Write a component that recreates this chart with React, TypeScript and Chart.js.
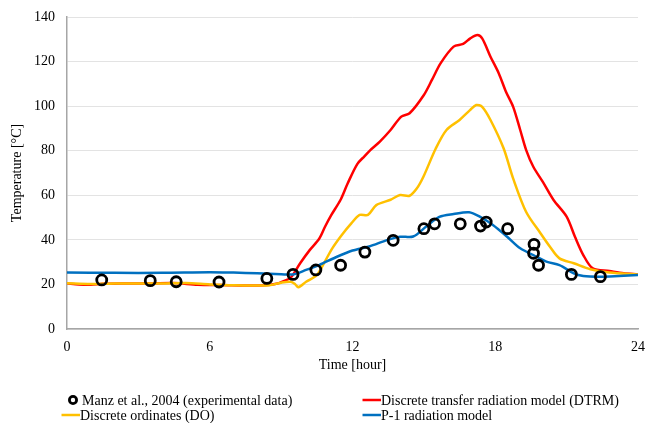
import React, { useEffect, useRef } from "react";
import { Chart, registerables } from "chart.js";

Chart.register(...registerables);

// Experimental data (Manz et al., 2004)
const expHours = [1.46, 3.5, 4.59, 6.39, 8.4, 9.5, 10.46, 11.5, 12.52, 13.71, 15.0, 15.45, 16.53, 17.38, 17.62, 18.52, 19.63, 19.61, 19.82, 21.2, 22.42];
const expTemps = [22.0, 21.7, 21.2, 21.1, 22.7, 24.5, 26.5, 28.6, 34.5, 39.8, 45.0, 47.2, 47.2, 46.2, 48.0, 45.0, 38.0, 34.0, 28.6, 24.5, 23.5];

// DTRM
const dtrmHours = [0, 0.5, 1.0, 1.5, 2.5, 3.5, 4.5, 5.5, 6.5, 7.5, 8.3, 8.8, 9.1, 9.4, 9.8, 10.2, 10.6, 10.85, 11.1, 11.5, 11.8, 12.2, 12.5, 12.75, 13.15, 13.6, 14.05, 14.4, 15.0, 15.35, 15.7, 16.25, 16.65, 16.95, 17.25, 17.45, 17.8, 18.15, 18.45, 18.75, 19.05, 19.3, 19.6, 20.0, 20.45, 21.0, 21.35, 21.7, 22.1, 22.8, 23.4, 24.0];
const dtrmTemps = [20.5, 20.0, 19.9, 20.3, 20.4, 20.4, 20.6, 19.8, 19.7, 19.5, 19.6, 20.3, 21.5, 23.0, 29.5, 35.4, 40.5, 46.0, 51.0, 58.0, 65.4, 74.0, 77.5, 80.3, 84.1, 89.3, 95.3, 96.8, 105.0, 112.0, 119.2, 126.7, 127.9, 130.4, 131.9, 130.4, 122.2, 114.7, 106.5, 99.8, 89.3, 80.3, 72.8, 66.0, 57.9, 50.4, 41.4, 33.2, 27.2, 26.0, 25.0, 24.5];

// DO
const doHours = [0, 1, 2, 3, 4, 5, 6, 7, 8, 8.5, 9.0, 9.4, 9.6, 9.72, 10.05, 10.5, 10.8, 11.15, 11.55, 11.95, 12.3, 12.65, 13.0, 13.6, 14.0, 14.4, 14.7, 14.98, 15.5, 15.95, 16.5, 16.95, 17.2, 17.45, 17.8, 18.35, 18.75, 19.3, 19.9, 20.3, 20.7, 21.3, 22.0, 22.8, 24.0];
const doTemps = [20.5, 20.2, 20.4, 20.4, 20.4, 20.6, 20.0, 19.6, 19.5, 19.6, 20.8, 21.2, 20.0, 18.7, 21.2, 24.2, 29.5, 36.2, 42.2, 47.4, 51.2, 51.2, 55.6, 58.0, 60.1, 59.8, 63.0, 68.3, 81.0, 89.3, 93.8, 98.3, 100.5, 99.7, 93.8, 81.1, 67.6, 52.5, 43.0, 36.9, 31.7, 29.5, 26.8, 25.3, 24.5];

// P-1
const p1Hours = [0, 2, 4, 6, 7, 8, 9.0, 9.5, 10.05, 10.6, 11.3, 12.0, 12.7, 13.45, 14.0, 14.55, 15.1, 15.65, 16.25, 16.9, 17.35, 17.9, 18.5, 19.05, 19.6, 20.15, 20.7, 21.3, 21.7, 22.4, 23.2, 24.0];
const p1Temps = [25.3, 25.2, 25.2, 25.5, 25.3, 25.0, 24.6, 24.5, 26.5, 28.7, 32.2, 35.2, 37.0, 39.9, 41.4, 41.5, 46.0, 50.3, 51.6, 52.4, 50.4, 46.7, 41.4, 36.2, 33.2, 30.2, 28.7, 25.0, 23.8, 23.5, 23.8, 24.2];

const xTicks = [0, 6, 12, 18, 24];
const yTicks = [0, 20, 40, 60, 80, 100, 120, 140];

const seriesNames = [
  "Manz et al., 2004 (experimental data)",
  "Discrete transfer radiation model (DTRM)",
  "Discrete ordinates (DO)",
  "P-1 radiation model",
];
const seriesColors = ["#000000", "#FF0000", "#FFC000", "#0070C0"];

const FONT = "'Liberation Serif', 'Times New Roman', serif";
const FS = 14;

const toPts = (xs: number[], ys: number[]) => xs.map((x, i) => ({ x, y: ys[i] }));

const legendPlugin = {
  id: "customLegend",
  afterDraw(chart: any) {
    const ctx = chart.ctx;
    ctx.save();
    ctx.font = `${FS}px ${FONT}`;
    ctx.textBaseline = "middle";
    const slots = [
      { x: 82, y: 400 },
      { x: 381, y: 400 },
      { x: 80, y: 415 },
      { x: 381, y: 415 },
    ];
    chart.data.datasets.forEach((ds: any, i: number) => {
      const s = slots[i];
      if (ds.type === "scatter") {
        ctx.beginPath();
        ctx.lineWidth = 2.8;
        ctx.strokeStyle = "#000";
        ctx.arc(s.x - 9, s.y, 3.6, 0, Math.PI * 2);
        ctx.stroke();
      } else {
        ctx.beginPath();
        ctx.lineWidth = 2.5;
        ctx.strokeStyle = ds.borderColor;
        ctx.moveTo(s.x - 18.5, s.y);
        ctx.lineTo(s.x, s.y);
        ctx.stroke();
      }
      ctx.fillStyle = "#000";
      ctx.textAlign = "left";
      ctx.fillText(ds.label, s.x, s.y + 1);
    });
    ctx.restore();
  },
};

export default function App() {
  const ref = useRef<HTMLCanvasElement | null>(null);
  useEffect(() => {
    if (!ref.current) return;
    const chart = new Chart(ref.current, {
      type: "line",
      data: {
        datasets: [
          {
            type: "scatter",
            label: seriesNames[0],
            data: toPts(expHours, expTemps),
            borderColor: seriesColors[0],
            backgroundColor: "rgba(0,0,0,0)",
            pointRadius: 5,
            pointBorderWidth: 2.8,
            pointStyle: "circle",
            showLine: false,
            order: 0,
          } as any,
          {
            type: "line",
            label: seriesNames[1],
            data: toPts(dtrmHours, dtrmTemps),
            borderColor: seriesColors[1],
            borderWidth: 2.5,
            pointRadius: 0,
            tension: 0.3,
            fill: false,
            order: 3,
          },
          {
            type: "line",
            label: seriesNames[2],
            data: toPts(doHours, doTemps),
            borderColor: seriesColors[2],
            borderWidth: 2.5,
            pointRadius: 0,
            tension: 0.3,
            fill: false,
            order: 2,
          },
          {
            type: "line",
            label: seriesNames[3],
            data: toPts(p1Hours, p1Temps),
            borderColor: seriesColors[3],
            borderWidth: 2.5,
            pointRadius: 0,
            tension: 0.3,
            fill: false,
            order: 1,
          },
        ],
      },
      options: {
        responsive: false,
        animation: false,
        devicePixelRatio: 1,
        layout: { autoPadding: false, padding: { top: 17, right: 7, bottom: 49, left: 0 } },
        plugins: { legend: { display: false }, tooltip: { enabled: false } },
        scales: {
          x: {
            type: "linear",
            min: 0,
            max: 24,
            afterBuildTicks: (scale: any) => {
              scale.ticks = xTicks.map((v) => ({ value: v }));
            },
            afterFit: (scale: any) => {
              scale.height = 45;
              scale.paddingLeft = 0;
              scale.paddingRight = 0;
            },
            grid: { display: false, drawTicks: false },
            border: { display: true, color: "#A6A6A6", width: 1.5 },
            ticks: {
              padding: 10,
              color: "#000",
              font: { family: FONT, size: FS },
              maxRotation: 0,
            },
            title: {
              display: true,
              text: "Time [hour]",
              color: "#000",
              font: { family: FONT, size: FS },
              padding: { top: 0, bottom: 0 },
            },
          },
          y: {
            type: "linear",
            min: 0,
            max: 140,
            afterBuildTicks: (scale: any) => {
              scale.ticks = yTicks.map((v) => ({ value: v }));
            },
            afterFit: (scale: any) => {
              scale.width = 67;
              scale.paddingTop = 0;
              scale.paddingBottom = 0;
            },
            grid: { color: "#E3E3E3", lineWidth: 1, drawTicks: false },
            border: { display: true, color: "#A6A6A6", width: 1.5 },
            ticks: {
              padding: 12,
              color: "#000",
              font: { family: FONT, size: FS },
            },
            title: {
              display: true,
              text: "Temperature [°C]",
              color: "#000",
              font: { family: FONT, size: FS },
              padding: { top: 8.5, bottom: 0 },
            },
          },
        },
      },
      plugins: [legendPlugin],
    });
    return () => chart.destroy();
  }, []);
  return (
    <div style={{ position: "absolute", left: 0, top: 0, width: 645, height: 423, background: "#fff" }}>
      <canvas ref={ref} width={645} height={423} style={{ display: "block" }} />
    </div>
  );
}
